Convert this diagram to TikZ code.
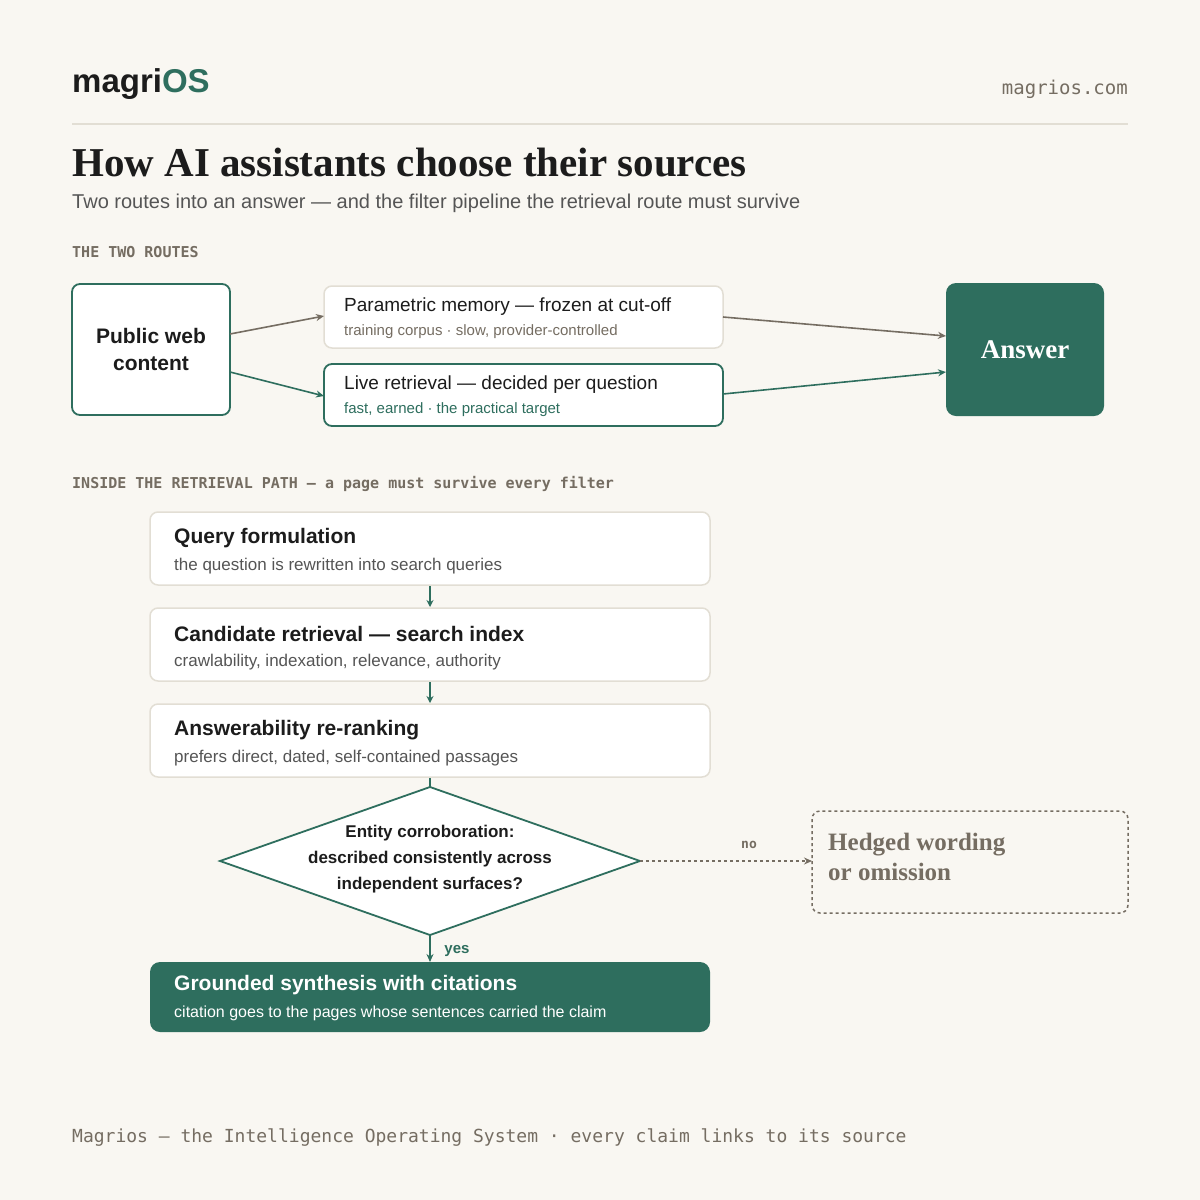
\documentclass[tikz,border=0pt]{standalone}
\usepackage{fontspec}
\setmainfont{Liberation Serif}
\setsansfont{Liberation Sans}
\setmonofont{DejaVu Sans Mono}
\usetikzlibrary{shapes.geometric,arrows.meta}
\definecolor{bg}{HTML}{F9F7F2}
\definecolor{grn}{HTML}{2E6E5E}
\definecolor{gry}{HTML}{756D62}
\definecolor{lbd}{HTML}{E2DED4}
\definecolor{ink}{HTML}{1C1C1C}
\definecolor{sub}{HTML}{555555}
\tikzset{
 box/.style={draw=lbd,line width=1.5pt,fill=white,rounded corners=8pt,anchor=north west,inner sep=0},
 gbox/.style={draw=grn,line width=1.8pt,fill=white,rounded corners=8pt},
 arr/.style={-{Stealth[length=8pt,width=7pt,open]},line width=1.6pt},
 garr/.style={arr,draw=grn},
 t/.style={anchor=west,inner sep=0,font=\sffamily},
 mono/.style={anchor=west,inner sep=0,font=\ttfamily\bfseries\fontsize{15}{18}\selectfont,text=gry}
}
\begin{document}
\begin{tikzpicture}[x=1pt,y=-1pt]
\fill[bg] (0,0) rectangle (1200,1200);
\useasboundingbox (0,0) rectangle (1200,1200);
\node[t,font=\sffamily\bfseries\fontsize{33}{36}\selectfont,text=ink] (logo) at (72,84) {magri\textcolor{grn}{OS}};
\node[anchor=east,inner sep=0,font=\ttfamily\fontsize{19}{22}\selectfont,text=gry] (url) at (1128,89) {magrios.com};
\draw[lbd,line width=1.2pt] (72,124) -- (1128,124);
\node[anchor=west,inner sep=0,font=\rmfamily\bfseries\fontsize{41}{46}\selectfont,text=ink] (title) at (72,163) {How AI assistants choose their sources};
\node[t,font=\sffamily\fontsize{20}{24}\selectfont,text=sub] (subt) at (72,203) {Two routes into an answer — and the filter pipeline the retrieval route must survive};
\node[mono] (h1) at (72,252) {THE TWO ROUTES};
% routes
\node[gbox,minimum width=158pt,minimum height=131pt,align=center,font=\sffamily\bfseries\fontsize{21}{27}\selectfont,text=ink] (pub) at (151,349.5) {Public web\\content};
\draw[lbd,line width=1.5pt,fill=white,rounded corners=8pt] (324,286) rectangle (723,348);
\coordinate (pm) at (523.5,317);
\node[t,font=\sffamily\fontsize{19}{22}\selectfont,text=ink] (pm1) at (344,307) {Parametric memory — frozen at cut-off};
\node[t,font=\sffamily\fontsize{15}{18}\selectfont,text=gry] (pm2) at (344,332) {training corpus · slow, provider-controlled};
\draw[grn,line width=1.8pt,fill=white,rounded corners=8pt] (324,364) rectangle (723,426);
\node[t,font=\sffamily\fontsize{19}{22}\selectfont,text=ink] (lr1) at (344,385) {Live retrieval — decided per question};
\node[t,font=\sffamily\fontsize{15}{18}\selectfont,text=grn] (lr2) at (344,410) {fast, earned · the practical target};
\node[fill=grn,rounded corners=10pt,minimum width=158pt,minimum height=133pt,text=white,font=\rmfamily\bfseries\fontsize{27}{30}\selectfont] (ans) at (1025,349.5) {Answer};
\coordinate (p1) at (230,334); \coordinate (p2) at (230,372);
\coordinate (a1) at (324,316); \coordinate (a2) at (324,396);
\coordinate (b1) at (723,317); \coordinate (b2) at (723,394);
\coordinate (c1) at (946,336); \coordinate (c2) at (946,372);
\draw[arr,gry] (p1) -- (a1);
\draw[garr] (p2) -- (a2);
\draw[arr,gry] (b1) -- (c1);
\draw[garr] (b2) -- (c2);
\node[mono] (h2) at (72,484) {INSIDE THE RETRIEVAL PATH — a page must survive every filter};
% pipeline
\foreach \y/\a/\b/\n in {512/Query formulation/the question is rewritten into search queries/q,
 608/Candidate retrieval — search index/{crawlability, indexation, relevance, authority}/c,
 704/Answerability re-ranking/{prefers direct, dated, self-contained passages}/r}{
 \draw[lbd,line width=1.5pt,fill=white,rounded corners=8pt] (150,\y) rectangle (710,\y+73);
 \node[t,font=\sffamily\bfseries\fontsize{21}{24}\selectfont,text=ink] (\n1) at (174,\y+26) {\a};
 \node[t,font=\sffamily\fontsize{17}{20}\selectfont,text=sub] (\n2) at (174,\y+54) {\b};
}
\coordinate (q0) at (430,586); \coordinate (q1) at (430,607);
\coordinate (r0) at (430,682); \coordinate (r1) at (430,703);
\draw[garr,line width=1.4pt,-{Stealth[length=7pt,width=7pt,open]}] (q0) -- (q1);
\draw[garr,line width=1.4pt,-{Stealth[length=7pt,width=7pt,open]}] (r0) -- (r1);
\coordinate (s0) at (430,778); \coordinate (s1) at (430,787);
\draw[grn,line width=1.6pt] (s0) -- (s1);
\draw[grn,line width=1.8pt,fill=white] (430,787) -- (640,861) -- (430,935) -- (220,861) -- cycle;
\node[align=center,font=\sffamily\bfseries\fontsize{17}{26}\selectfont,text=ink] (dia) at (430,859) {Entity corroboration:\\described consistently across\\independent surfaces?};
\coordinate (dr) at (640,861); \coordinate (db) at (430,935);
\draw[gry,line width=1.5pt,dashed,rounded corners=8pt] (812,811) rectangle (1128,913);
\coordinate (hl) at (812,861);
\node[t,font=\rmfamily\bfseries\fontsize{25}{30}\selectfont,text=gry,align=left] (hed) at (828,857) {Hedged wording\\or omission};
\draw[arr,gry,dashed,line width=1.5pt] (dr) -- (hl);
\node[inner sep=0,font=\ttfamily\bfseries\fontsize{13}{15}\selectfont,text=gry] (no) at (749,845) {no};
\draw[fill=grn,draw=none,rounded corners=10pt] (150,962) rectangle (710,1032);
\coordinate (gt) at (430,962);
\draw[garr] (db) -- (gt);
\node[inner sep=0,font=\sffamily\bfseries\fontsize{15}{18}\selectfont,text=grn] (yes) at (457,951) {yes};
\node[t,font=\sffamily\bfseries\fontsize{21}{24}\selectfont,text=white] (g1) at (174,985) {Grounded synthesis with citations};
\node[t,font=\sffamily\fontsize{16}{19}\selectfont,text=white] (g2) at (174,1013) {citation goes to the pages whose sentences carried the claim};
\node[t,font=\ttfamily\fontsize{18}{21}\selectfont,text=gry] (foot) at (72,1138) {Magrios — the Intelligence Operating System · every claim links to its source};
\end{tikzpicture}
\end{document}
